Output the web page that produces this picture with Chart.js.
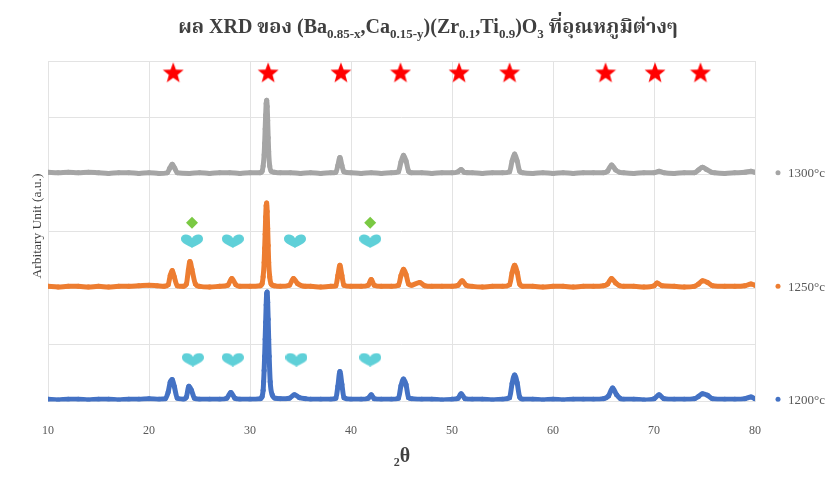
<!DOCTYPE html>
<html>
<head>
<meta charset="utf-8">
<script src="https://cdn.jsdelivr.net/npm/chart.js@4/dist/chart.umd.min.js"></script>
<style>
  html, body { margin: 0; padding: 0; background: #fff; }
  #wrap { width: 825px; height: 477px; position: relative; }
</style>
</head>
<body>
<div id="wrap"><canvas id="xrdChart"></canvas></div>
<script>
// 2θ ticks
const xTicks = [10, 20, 30, 40, 50, 60, 70, 80];

// series names (right side labels)
const seriesNames = ["1300°c", "1250°c", "1200°c"];
const seriesColors = ["#a5a5a5", "#ed7d31", "#4472c4"];

// 1300 °C pattern (already offset upward)
const x1300 = [10,11,12,13,14,15,16,17,18,19,20,21,21.8,22.05,22.3,22.55,22.8,24,25,26,27,28,29,30,31,
  31.2,31.3,31.4,31.45,31.5,31.55,31.6,31.65,31.7,31.75,31.8,31.85,31.95,32.1,32.4,33,34,35,36,37,38,38.5,38.7,38.9,39.1,39.3,
  40,41,42,43,44,44.7,44.95,45.2,45.45,45.7,46,47,48,49,50,50.6,50.9,51.2,52,53,54,55,55.7,55.95,56.2,56.45,56.7,
  57,58,59,60,61,62,63,64,65,65.4,65.8,66.2,66.6,67,68,69,70,70.5,71,72,73,74,74.4,74.8,75.2,75.7,76,77,78,79,79.6,80];
const y1300 = [4.04,4.03,4.04,4.03,4.04,4.03,4.02,4.03,4.03,4.02,4.03,4.02,4.03,4.11,4.18,4.11,4.03,4.02,4.03,4.02,4.03,4.03,4.02,4.03,4.03,
  4.06,4.15,4.35,4.55,4.8,5.05,5.25,5.31,5.2,4.95,4.65,4.4,4.15,4.06,4.04,4.03,4.03,4.02,4.03,4.02,4.03,4.04,4.16,4.30,4.16,4.05,
  4.03,4.02,4.03,4.02,4.03,4.05,4.22,4.34,4.24,4.06,4.03,4.03,4.02,4.03,4.03,4.05,4.09,4.04,4.03,4.02,4.03,4.03,4.05,4.24,4.36,4.24,4.06,
  4.03,4.02,4.03,4.02,4.03,4.02,4.03,4.03,4.03,4.06,4.17,4.08,4.04,4.03,4.02,4.03,4.03,4.06,4.03,4.02,4.03,4.03,4.08,4.13,4.09,4.04,4.03,4.02,4.03,4.04,4.06,4.04];

// 1250 °C pattern
const x1250 = [10,11,12,13,14,15,16,17,18,19,20,20.8,21.5,21.9,22.1,22.3,22.5,22.8,23.4,23.7,23.9,24.05,24.25,24.6,25,26,27,27.8,28.2,28.6,29,30,31,
  31.2,31.3,31.4,31.45,31.5,31.55,31.6,31.65,31.7,31.75,31.8,31.85,31.95,32.1,32.4,33,33.9,34.3,34.7,35.5,36,37,38,38.5,38.7,38.9,39.1,39.3,
  40,41,41.7,42.0,42.3,43,44,44.7,44.95,45.2,45.45,45.7,46,46.8,47.3,48,49,50,50.6,51.0,51.4,52,53,54,55,55.7,55.95,56.2,56.45,56.7,
  57,58,59,60,61,62,63,64,65,65.4,65.8,66.2,66.6,67,68,69,70,70.3,70.8,72,73,74,74.4,74.8,75.3,75.8,77,78,79,79.6,80];
const y1250 = [2.03,2.02,2.03,2.03,2.02,2.03,2.02,2.03,2.03,2.04,2.05,2.04,2.03,2.06,2.22,2.31,2.2,2.04,2.03,2.07,2.32,2.47,2.33,2.07,2.03,2.02,2.03,2.05,2.17,2.06,2.03,2.03,2.04,
  2.08,2.2,2.45,2.7,2.95,3.25,3.45,3.5,3.35,3.05,2.75,2.45,2.2,2.07,2.04,2.03,2.05,2.17,2.08,2.03,2.03,2.02,2.03,2.04,2.22,2.40,2.22,2.05,
  2.03,2.03,2.05,2.15,2.05,2.03,2.03,2.05,2.22,2.33,2.24,2.07,2.05,2.1,2.04,2.03,2.03,2.03,2.05,2.13,2.05,2.03,2.02,2.03,2.03,2.06,2.27,2.40,2.28,2.07,
  2.03,2.03,2.02,2.03,2.03,2.02,2.03,2.03,2.04,2.07,2.17,2.09,2.04,2.03,2.03,2.02,2.04,2.09,2.04,2.03,2.02,2.03,2.07,2.13,2.1,2.04,2.03,2.03,2.04,2.07,2.05];

// 1200 °C pattern
const x1200 = [10,11,12,13,14,15,16,17,18,19,20,21,21.6,21.9,22.1,22.3,22.5,22.8,23.4,23.7,23.95,24.2,24.5,25,26,27,27.7,28.1,28.5,29,30,31,
  31.2,31.3,31.35,31.4,31.45,31.5,31.55,31.6,31.65,31.7,31.75,31.8,31.85,31.9,32.0,32.2,32.5,33,33.9,34.4,34.9,35.5,36,37,38,38.5,38.7,38.9,39.1,39.3,
  40,41,41.7,42.0,42.3,43,44,44.7,44.95,45.2,45.45,45.7,46,47,48,49,50,50.6,50.9,51.3,52,53,54,55,55.7,55.95,56.2,56.45,56.7,
  57,58,59,60,61,62,63,64,65,65.5,65.9,66.3,66.7,67,68,69,70,70.5,71,72,73,74,74.4,74.8,75.3,75.8,77,78,79,79.6,80];
const y1200 = [0.04,0.03,0.04,0.04,0.03,0.04,0.04,0.03,0.04,0.04,0.05,0.04,0.05,0.17,0.34,0.39,0.27,0.06,0.04,0.08,0.27,0.2,0.06,0.04,0.04,0.04,0.06,0.16,0.06,0.04,0.04,0.05,
  0.09,0.2,0.35,0.55,0.8,1.1,1.4,1.7,1.9,1.93,1.75,1.45,1.1,0.8,0.35,0.12,0.06,0.05,0.06,0.12,0.07,0.05,0.04,0.04,0.04,0.06,0.27,0.53,0.3,0.07,
  0.04,0.04,0.06,0.12,0.05,0.04,0.04,0.06,0.28,0.40,0.3,0.07,0.05,0.04,0.04,0.03,0.04,0.06,0.14,0.05,0.04,0.04,0.03,0.04,0.07,0.32,0.47,0.33,0.08,
  0.04,0.04,0.03,0.04,0.03,0.04,0.04,0.04,0.05,0.1,0.24,0.12,0.05,0.04,0.04,0.03,0.05,0.12,0.05,0.04,0.04,0.05,0.09,0.14,0.11,0.05,0.04,0.04,0.05,0.08,0.05];

// phase markers
const starX = [22.4, 31.8, 39.0, 44.9, 50.7, 55.7, 65.2, 70.1, 74.6];
const starY = 5.8;
const diamondX = [24.26, 41.9];
const diamondY = 3.15;
const heartX1250 = [24.26, 28.3, 34.45, 41.9];
const heartY1250 = 2.83;
const heartX1200 = [24.35, 28.3, 34.6, 41.9];
const heartY1200 = 0.74;

function pts(xs, ys) {
  return xs.map((x, i) => ({ x: x, y: Array.isArray(ys) ? ys[i] : ys }));
}

// custom marker images
function makeStar(size, color) {
  const c = document.createElement("canvas");
  c.width = size; c.height = size;
  const g = c.getContext("2d");
  const cx = size / 2, cy = size / 2 + 1, R = size / 2, r = R * 0.42;
  g.beginPath();
  for (let i = 0; i < 10; i++) {
    const rad = i % 2 === 0 ? R : r;
    const a = -Math.PI / 2 + i * Math.PI / 5;
    g.lineTo(cx + rad * Math.cos(a), cy + rad * Math.sin(a));
  }
  g.closePath();
  g.fillStyle = color;
  g.fill();
  return c;
}

function makeHeart(w, h, color) {
  const c = document.createElement("canvas");
  c.width = w; c.height = h;
  const g = c.getContext("2d");
  g.beginPath();
  g.moveTo(w / 2, h * 0.3);
  g.bezierCurveTo(w * 0.4, -h * 0.05, 0, -h * 0.05, 0, h * 0.35);
  g.bezierCurveTo(0, h * 0.7, w * 0.35, h * 0.8, w / 2, h);
  g.bezierCurveTo(w * 0.65, h * 0.8, w, h * 0.7, w, h * 0.35);
  g.bezierCurveTo(w, -h * 0.05, w * 0.6, -h * 0.05, w / 2, h * 0.3);
  g.closePath();
  g.fillStyle = color;
  g.fill();
  return c;
}

const starImg = makeStar(22, "#ff0000");
const heartImg = makeHeart(22, 14, "#5fd0d8");

function lineSet(label, data, color) {
  return {
    label: label,
    data: data,
    showLine: true,
    borderColor: color,
    backgroundColor: color,
    borderWidth: 5,
    borderJoinStyle: "round",
    borderCapStyle: "round",
    cubicInterpolationMode: "monotone",
    pointRadius: 2.5,
    pointBorderWidth: 0
  };
}

function markerSet(label, data, style, color, radius) {
  return {
    label: label,
    data: data,
    showLine: false,
    pointStyle: style,
    pointRadius: radius,
    backgroundColor: color,
    borderColor: color,
    borderWidth: 0
  };
}

// title with subscripts, axis titles and side labels
const textPlugin = {
  id: "texts",
  afterDraw(chart) {
    const ctx = chart.ctx;
    const area = chart.chartArea;
    const ys = chart.scales.y;
    ctx.save();

    // title
    const parts = [
      ["ผล XRD ของ (Ba", 0], ["0.85-x", 1], [",Ca", 0], ["0.15-y", 1], [")(Zr", 0], ["0.1", 1],
      [",Ti", 0], ["0.9", 1], [")O", 0], ["3", 1], [" ที่อุณหภูมิต่างๆ", 0]
    ];
    const bigFont = "bold 20px 'Liberation Serif', 'Noto Serif Thai', 'Noto Sans Thai', serif";
    const smallFont = "bold 13px 'Liberation Serif', 'Noto Serif Thai', serif";
    let total = 0;
    parts.forEach(p => { ctx.font = p[1] ? smallFont : bigFont; total += ctx.measureText(p[0]).width; });
    let x = 428 - total / 2;
    ctx.fillStyle = "#3f3f3f";
    ctx.textBaseline = "alphabetic";
    parts.forEach(p => {
      ctx.font = p[1] ? smallFont : bigFont;
      ctx.fillText(p[0], x, p[1] ? 38 : 33);
      x += ctx.measureText(p[0]).width;
    });

    // y title
    ctx.save();
    ctx.translate(37, 226);
    ctx.rotate(-Math.PI / 2);
    ctx.font = "13.5px 'Liberation Serif', serif";
    ctx.fillStyle = "#404040";
    ctx.textAlign = "center";
    ctx.textBaseline = "middle";
    ctx.fillText("Arbitary Unit (a.u.)", 0, 0);
    ctx.restore();

    // x title
    ctx.font = "bold 20px 'Liberation Serif', serif";
    ctx.fillStyle = "#404040";
    ctx.textAlign = "center";
    ctx.textBaseline = "alphabetic";
    ctx.fillText("₂θ", 402, 462);

    // side labels
    const baseY = [4.03, 2.03, 0.04];
    ctx.font = "13px 'Liberation Serif', serif";
    ctx.textAlign = "left";
    ctx.textBaseline = "middle";
    seriesNames.forEach((name, i) => {
      const py = ys.getPixelForValue(baseY[i]);
      ctx.fillStyle = seriesColors[i];
      ctx.beginPath();
      ctx.arc(778, py, 2.5, 0, Math.PI * 2);
      ctx.fill();
      ctx.fillStyle = "#595959";
      ctx.fillText(name, 788, py + 1);
    });
    ctx.restore();
  }
};

new Chart(document.getElementById("xrdChart"), {
  type: "scatter",
  data: {
    datasets: [
      markerSet("stars", pts(starX, starY), starImg, "#ff0000", 11),
      markerSet("diamonds", pts(diamondX, diamondY), "rectRot", "#7ac943", 6),
      markerSet("hearts1250", pts(heartX1250, heartY1250), heartImg, "#5fd0d8", 10),
      markerSet("hearts1200", pts(heartX1200, heartY1200), heartImg, "#5fd0d8", 10),
      lineSet(seriesNames[0], pts(x1300, y1300), seriesColors[0]),
      lineSet(seriesNames[1], pts(x1250, y1250), seriesColors[1]),
      lineSet(seriesNames[2], pts(x1200, y1200), seriesColors[2])
    ]
  },
  options: {
    responsive: true,
    maintainAspectRatio: false,
    animation: false,
    layout: { padding: { left: 48, right: 70, top: 61, bottom: 17 } },
    plugins: {
      legend: { display: false },
      tooltip: { enabled: false }
    },
    scales: {
      x: {
        type: "linear",
        min: 10,
        max: 80,
        afterBuildTicks: axis => { axis.ticks = xTicks.map(v => ({ value: v })); },
        grid: { color: "#e3e3e3", drawTicks: false },
        border: { display: false },
        ticks: {
          padding: 22,
          color: "#595959",
          font: { family: "'Liberation Serif', serif", size: 12 }
        }
      },
      y: {
        min: 0,
        max: 6,
        grid: { color: "#e3e3e3", drawTicks: false },
        border: { display: false },
        ticks: { display: false, stepSize: 1 }
      }
    }
  },
  plugins: [textPlugin]
});
</script>
</body>
</html>
